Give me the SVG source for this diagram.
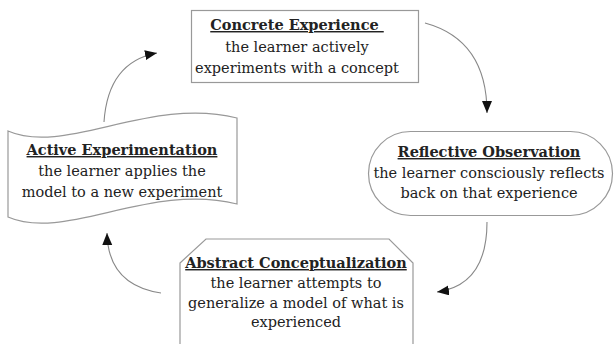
<svg xmlns="http://www.w3.org/2000/svg" width="616" height="344" viewBox="0 0 616 344">
<defs>
<marker id="ah" markerUnits="userSpaceOnUse" markerWidth="13" markerHeight="11" refX="12" refY="5" orient="auto">
<path d="M0,0 L12,5 L0,10 Z" fill="#111"/>
</marker>
<style>
.shape{fill:#fff;stroke:#999;stroke-width:1.2}
.t{font-family:"DejaVu Serif","Liberation Serif",serif;font-size:14.5px;fill:#222;text-anchor:middle}
.h{font-weight:bold;text-decoration:underline;white-space:pre}
.c{fill:none;stroke:#888;stroke-width:1.1}
</style>
</defs>
<rect width="616" height="344" fill="#fff"/>
<g id="connectors">
<path class="c" d="M425,23 Q487,40 487,113" marker-end="url(#ah)"/>
<path class="c" d="M487,222 Q487,285 437,292" marker-end="url(#ah)"/>
<path class="c" d="M161,293 Q108,285 107,233" marker-end="url(#ah)"/>
<path class="c" d="M104,122 Q108,62 157,53" marker-end="url(#ah)"/>
</g>
<g id="concrete-experience">
<rect class="shape" x="191.5" y="10.5" width="227" height="72"/>
<text class="t" x="297" y="30"><tspan class="h">Concrete Experience </tspan><tspan x="297" y="52">the learner actively</tspan><tspan x="297" y="73">experiments with a concept</tspan></text>
</g>
<g id="reflective-observation">
<rect class="shape" x="368.5" y="131.5" width="244" height="84" rx="42"/>
<text class="t" x="489" y="157"><tspan class="h">Reflective Observation</tspan><tspan x="489" y="178">the learner consciously reflects</tspan><tspan x="489" y="198">back on that experience</tspan></text>
</g>
<g id="abstract-conceptualization">
<path class="shape" d="M180,263 L206,239 L389,239 L413,263 L413,360 L180,360 Z"/>
<text class="t" x="296" y="268"><tspan class="h">Abstract Conceptualization</tspan><tspan x="296" y="288">the learner attempts to</tspan><tspan x="296" y="308">generalize a model of what is</tspan><tspan x="296" y="327">experienced</tspan></text>
</g>
<g id="active-experimentation">
<path class="shape" d="M8,131 C65,156 150,96 237,118 L237,204 C150,182 65,242 8,217 Z"/>
<text class="t" x="122" y="155"><tspan class="h">Active Experimentation</tspan><tspan x="122" y="176">the learner applies the</tspan><tspan x="122" y="197">model to a new experiment</tspan></text>
</g>
</svg>
